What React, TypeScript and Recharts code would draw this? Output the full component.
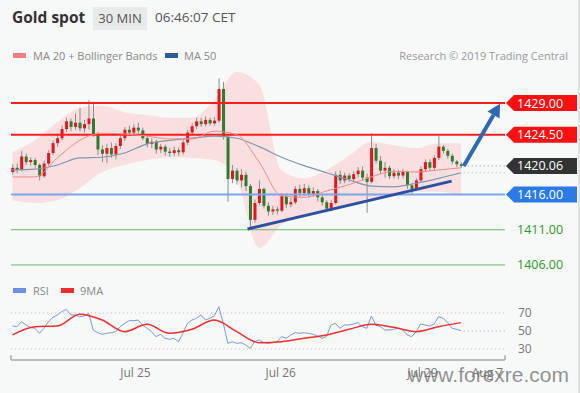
import React from 'react';
import {
  ComposedChart,
  Bar,
  Line,
  Area,
  XAxis,
  YAxis,
  ReferenceLine,
} from 'recharts';

// 30-min candles, red = up, green = down. open of each candle is the previous close
const FIRST_OPEN = 1419.2;
const CLOSE = [
  1419.8, 1419.5, 1421.4, 1420.6, 1420.9, 1420.2, 1418.6, 1420.4, 1421.9, 1423.3,
  1424.0, 1425.3, 1426.4, 1425.6, 1426.2, 1425.4, 1426.0, 1426.8, 1424.6, 1422.4,
  1421.8, 1422.6, 1421.7, 1422.9, 1424.0, 1425.2, 1424.8, 1425.5, 1425.1, 1424.0,
  1423.2, 1423.5, 1422.4, 1422.8, 1422.1, 1421.9, 1422.3, 1422.0, 1423.4, 1424.8,
  1425.7, 1426.4, 1426.0, 1426.6, 1426.1, 1426.5, 1431.0, 1424.2, 1418.2, 1419.4,
  1418.0, 1418.8, 1417.2, 1412.4, 1414.8, 1416.8, 1414.4, 1413.6, 1413.9, 1413.7,
  1415.8, 1414.6, 1414.9, 1416.8, 1416.2, 1416.9, 1416.1, 1416.5, 1415.6, 1414.9,
  1414.0, 1414.8, 1418.8, 1418.0, 1418.7, 1418.2, 1418.9, 1419.4, 1418.4, 1417.8,
  1422.6, 1420.8, 1419.4, 1419.8, 1418.6, 1419.1, 1418.7, 1419.2, 1417.3, 1416.8,
  1418.0, 1419.6, 1420.6, 1419.8, 1421.2, 1422.8, 1422.2, 1421.5, 1420.7, 1420.3,
  1420.06,
];
const HIGH = [
  1420.3, 1420.4, 1422.2, 1421.8, 1421.3, 1421.2, 1420.4, 1420.8, 1422.3, 1423.7,
  1424.6, 1425.8, 1426.9, 1426.8, 1427.5, 1428.3, 1426.6, 1429.4, 1429.2, 1424.9,
  1423.0, 1423.2, 1423.4, 1423.3, 1424.4, 1425.6, 1425.8, 1426.0, 1426.2, 1425.5,
  1424.4, 1424.0, 1423.8, 1423.2, 1423.1, 1422.6, 1422.8, 1422.7, 1423.8, 1425.2,
  1426.1, 1426.9, 1426.9, 1427.1, 1426.9, 1427.0, 1432.5, 1432.0, 1424.6, 1420.2,
  1419.8, 1419.6, 1419.2, 1417.5, 1415.3, 1418.0, 1417.0, 1414.9, 1414.4, 1414.3,
  1416.2, 1416.1, 1415.5, 1417.2, 1417.4, 1417.5, 1417.3, 1417.0, 1416.8, 1415.9,
  1415.2, 1415.2, 1419.3, 1419.4, 1419.1, 1419.0, 1419.3, 1419.9, 1420.0, 1419.0,
  1424.7, 1423.2, 1421.5, 1420.6, 1420.1, 1419.6, 1419.5, 1419.6, 1419.4, 1417.6,
  1418.3, 1420.0, 1421.0, 1421.0, 1421.6, 1424.3, 1423.0, 1422.5, 1421.8, 1420.9,
  1420.6,
];
const LOW = [
  1418.8, 1419.0, 1419.3, 1420.2, 1420.1, 1419.8, 1418.0, 1418.4, 1420.1, 1421.6,
  1422.8, 1423.7, 1424.9, 1425.0, 1425.2, 1425.0, 1424.8, 1425.2, 1424.2, 1421.6,
  1420.6, 1420.5, 1421.2, 1421.0, 1422.5, 1423.6, 1424.3, 1424.5, 1424.7, 1423.7,
  1422.7, 1422.6, 1421.8, 1421.9, 1421.5, 1421.4, 1421.5, 1421.5, 1421.7, 1423.0,
  1424.4, 1425.3, 1425.6, 1425.7, 1425.8, 1425.8, 1426.2, 1423.8, 1415.0, 1417.6,
  1417.4, 1417.0, 1416.5, 1411.2, 1412.0, 1414.5, 1414.0, 1413.0, 1413.1, 1413.2,
  1413.5, 1414.1, 1414.2, 1414.6, 1415.7, 1415.8, 1415.6, 1415.7, 1415.0, 1414.4,
  1413.6, 1413.6, 1414.6, 1417.5, 1417.6, 1417.8, 1417.9, 1418.5, 1418.0, 1413.4,
  1417.6, 1420.4, 1419.0, 1418.4, 1418.2, 1418.3, 1418.2, 1418.3, 1416.8, 1416.0,
  1416.5, 1417.7, 1419.2, 1419.4, 1419.5, 1420.9, 1421.8, 1421.1, 1420.3, 1419.9,
  1419.8,
];

// indicator values read at every 5th candle
const SAMPLE_IDX = [0, 5, 10, 15, 20, 25, 30, 35, 40, 45, 50, 55, 60, 65, 70, 75, 80, 85, 90, 95, 100];
const MA20 = [1418.5, 1418.5, 1421.2, 1423.7, 1424.7, 1424.6, 1424.3, 1423.9, 1423.9, 1425.0, 1424.5, 1420.6, 1415.8, 1415.6, 1416.5, 1417.4, 1418.5, 1419.3, 1419.2, 1419.5, 1419.8];
const MA50 = [1419.5, 1419.6, 1420.2, 1421.2, 1421.3, 1421.9, 1423.2, 1423.7, 1424.0, 1424.3, 1424.0, 1422.8, 1421.3, 1420.1, 1419.1, 1418.1, 1417.2, 1417.1, 1417.6, 1418.3, 1419.1];
const BB_UPPER = [1422.0, 1423.7, 1426.3, 1428.3, 1428.6, 1427.7, 1427.3, 1426.9, 1426.9, 1429.4, 1433.4, 1431.6, 1419.5, 1418.3, 1419.5, 1421.5, 1423.5, 1423.0, 1422.6, 1423.3, 1423.3];
const BB_LOWER = [1415.2, 1414.8, 1415.2, 1416.9, 1419.2, 1420.2, 1420.9, 1421.3, 1421.2, 1420.9, 1418.1, 1408.4, 1411.7, 1413.2, 1413.8, 1414.5, 1415.5, 1415.9, 1416.4, 1416.4, 1415.8];

const RSI = [
  55.6, 54.8, 60.4, 56.7, 54, 53, 47.4, 53, 60.4, 65.2,
  67.8, 71.5, 74.1, 67.8, 67.8, 65.9, 66.7, 69.6, 51.1, 48.1,
  46.3, 47.4, 48.1, 49.3, 54.8, 58.5, 61.5, 61.5, 62.2, 56.7,
  53, 49.3, 43.7, 46.3, 41.9, 40.7, 41.9, 38.1, 47.4, 58.5,
  62.2, 64.1, 67.8, 62.2, 64.1, 66.7, 77, 58.5, 36.3, 38.1,
  36.3, 37, 34.4, 30.7, 38.1, 40, 37, 36.3, 37, 38.1,
  43.7, 41.9, 45.6, 48.1, 47.4, 48.1, 47.4, 46.3, 44.4, 41.9,
  43.7, 56.7, 58.5, 53, 56.7, 56.7, 57.8, 59.3, 54.8, 53,
  66.7, 56.7, 54.8, 51.1, 51.1, 51.9, 53, 51.1, 45.6, 43.7,
  49.3, 57.8, 56.7, 55.6, 57.8, 65.9, 64.1, 59.3, 53, 51.9,
  50.4,
];
const RSI_MA9 = [45.6, 54.8, 55.5, 68.5, 62.2, 49.3, 57.4, 47.4, 51.9, 62.2, 49.3, 37, 38.1, 41.9, 45.6, 51.9, 57.4, 54.1, 49.3, 54.8, 59.3];

const LEVELS_RED = [1429.0, 1424.5];
const LEVEL_LAST = 1420.06;
const LEVEL_BLUE = 1416.0;
const LEVELS_GREEN = [1411.0, 1406.0];

const TREND_X = [52.4, 97.9];
const TREND_Y = [1411.1, 1417.9];
const ARROW_X = [100.6, 108.7];
const ARROW_Y = [1420.06, 1428.9];

const TICK_POS = [27.4, 59.8, 91.4, 105.9];
const TICK_LABELS = ['Jul 25', 'Jul 26', 'Jul 29', 'Aug 7'];
const RSI_LEVELS = [70, 50, 30];

const X_DOMAIN: [number, number] = [-0.33, 109.8];
const PRICE_DOMAIN: [number, number] = [1404.57, 1433.69];
const RSI_DOMAIN: [number, number] = [17.78, 85];

const FONT = '"Open Sans", "DejaVu Sans", sans-serif';
const W = 580;
const H = 393;

const candles = CLOSE.map((close, i) => ({
  i,
  open: i === 0 ? FIRST_OPEN : CLOSE[i - 1],
  close,
  high: HIGH[i],
  low: LOW[i],
  range: [LOW[i], HIGH[i]],
}));

const bands = SAMPLE_IDX.map((i, k) => ({
  i,
  band: [BB_LOWER[k], BB_UPPER[k]],
  ma20: MA20[k],
  ma50: MA50[k],
  rsiMa: RSI_MA9[k],
}));

const rsiData = RSI.map((rsi, i) => ({ i, rsi }));

const Candle = (props: any) => {
  const { x, y, width, height, payload } = props;
  if (!payload) return null;
  const { open, close, high, low } = payload;
  const top = Math.min(y, y + height);
  const h = Math.abs(height);
  const toY = (p: number) => top + ((high - p) / (high - low)) * h;
  const up = close >= open;
  const b1 = toY(Math.max(open, close));
  const b2 = toY(Math.min(open, close));
  const cx = x + width / 2;
  return (
    <g>
      <line x1={cx} x2={cx} y1={top} y2={top + h} stroke="#8c8c8c" strokeWidth={1} />
      <rect x={x} y={b1} width={width} height={Math.max(1, b2 - b1)} fill={up ? '#e3161d' : '#2e7b2b'} />
    </g>
  );
};

const ArrowShape = (props: any) => {
  const { x1, y1, x2, y2 } = props;
  const dx = x2 - x1;
  const dy = y2 - y1;
  const len = Math.hypot(dx, dy) || 1;
  const ux = dx / len;
  const uy = dy / len;
  const hl = 13;
  const hw = 7;
  const bx = x2 - ux * hl;
  const by = y2 - uy * hl;
  return (
    <g>
      <line x1={x1} y1={y1} x2={bx} y2={by} stroke="#2f69b0" strokeWidth={4} />
      <polygon
        points={`${x2},${y2} ${bx - uy * hw},${by + ux * hw} ${bx + uy * hw},${by - ux * hw}`}
        fill="#2f69b0"
      />
    </g>
  );
};

// price tag at the right end of a level line
const makeTag = (text: string, bg: string | null, fg: string) => (props: any) => {
  const vb = props.viewBox || {};
  const x0 = (vb.x ?? 0) + (vb.width ?? 0) + 1;
  const yc = vb.y ?? 0;
  return (
    <g>
      {bg && (
        <polygon
          points={`${x0},${yc} ${x0 + 8},${yc - 8} ${x0 + 71},${yc - 8} ${x0 + 71},${yc + 8} ${x0 + 8},${yc + 8}`}
          fill={bg}
        />
      )}
      <text x={x0 + 11} y={yc + 4.5} fontSize={12.5} fontFamily={FONT} fill={fg}>
        {text}
      </text>
    </g>
  );
};

const rsiLabel = (text: string) => (props: any) => {
  const vb = props.viewBox || {};
  const x0 = (vb.x ?? 0) + (vb.width ?? 0);
  return (
    <text x={x0 + 13} y={(vb.y ?? 0) + 4} fontSize={12} fontFamily={FONT} fill="#777">
      {text}
    </text>
  );
};

const Swatch = ({ color, left, top }: { color: string; left: number; top: number }) => (
  <div style={{ position: 'absolute', left, top, width: 13, height: 5, background: color }} />
);

const small: React.CSSProperties = { position: 'absolute', fontFamily: FONT, fontSize: 11, color: '#888', whiteSpace: 'nowrap' };

export default function App() {
  return (
    <div
      style={{
        position: 'absolute',
        left: 0,
        top: 0,
        width: W,
        height: H,
        background: '#f7f8f8',
        overflow: 'hidden',
        borderRight: '2px solid #e2e4e4',
        boxSizing: 'border-box',
      }}
    >
      <div style={{ position: 'absolute', left: 12, top: 6, fontFamily: FONT, fontSize: 15.5, fontWeight: 700, color: '#333' }}>
        Gold spot
      </div>
      <div
        style={{
          position: 'absolute',
          left: 93,
          top: 7,
          width: 54,
          height: 23,
          background: '#e8eaea',
          fontFamily: FONT,
          fontSize: 13,
          color: '#555',
          textAlign: 'center',
          lineHeight: '23px',
        }}
      >
        30 MIN
      </div>
      <div style={{ position: 'absolute', left: 155, top: 8, fontFamily: FONT, fontSize: 13.5, color: '#555' }}>06:46:07 CET</div>

      <Swatch color="#f77f7f" left={13} top={53} />
      <div style={{ ...small, left: 33, top: 48 }}>MA 20 + Bollinger Bands</div>
      <Swatch color="#2d5d99" left={165} top={53} />
      <div style={{ ...small, left: 184, top: 48 }}>MA 50</div>
      <div style={{ ...small, right: 10, top: 48, color: '#999' }}>Research © 2019 Trading Central</div>

      <div style={{ position: 'absolute', left: 0, top: 0 }}>
        <ComposedChart width={W} height={290} data={candles} margin={{ top: 70, right: 75, bottom: 15, left: 11 }}>
          <XAxis type="number" dataKey="i" domain={X_DOMAIN} hide allowDataOverflow />
          <YAxis type="number" domain={PRICE_DOMAIN} hide allowDataOverflow />
          <Area
            data={bands}
            dataKey="band"
            type="monotone"
            fill="#fbcaca"
            fillOpacity={0.55}
            stroke="none"
            isAnimationActive={false}
          />
          {LEVELS_RED.map((v) => (
            <ReferenceLine
              key={v}
              y={v}
              stroke="#ff1c1c"
              strokeWidth={2}
              label={makeTag(v.toFixed(2), '#ff1010', '#fff')}
            />
          ))}
          <ReferenceLine y={LEVEL_BLUE} stroke="#7aa6ea" strokeWidth={2} label={makeTag(LEVEL_BLUE.toFixed(2), '#2a7be6', '#fff')} />
          {LEVELS_GREEN.map((v) => (
            <ReferenceLine key={v} y={v} stroke="#66bb66" strokeWidth={1} label={makeTag(v.toFixed(2), null, '#2d9a2d')} />
          ))}
          <Line data={bands} dataKey="ma50" type="monotone" stroke="#7e98ac" strokeWidth={1.2} dot={false} isAnimationActive={false} />
          <Line data={bands} dataKey="ma20" type="monotone" stroke="#f28a8a" strokeWidth={1} dot={false} isAnimationActive={false} />
          <Bar dataKey="range" barSize={3} shape={Candle} isAnimationActive={false} />
          <ReferenceLine
            segment={[{ x: TREND_X[0], y: TREND_Y[0] }, { x: TREND_X[1], y: TREND_Y[1] }]}
            stroke="#2c4f9f"
            strokeWidth={3}
          />
          <ReferenceLine
            segment={[{ x: 100.6, y: LEVEL_LAST }, { x: X_DOMAIN[1], y: LEVEL_LAST }]}
            stroke="#8a94a0"
            strokeDasharray="1 3"
            label={makeTag(LEVEL_LAST.toFixed(2), '#333333', '#fff')}
          />
          <ReferenceLine
            segment={[{ x: 100.6, y: MA50[MA50.length - 1] }, { x: X_DOMAIN[1], y: MA50[MA50.length - 1] }]}
            stroke="#9fb3cc"
            strokeDasharray="1 3"
          />
          <ReferenceLine
            segment={[{ x: ARROW_X[0], y: ARROW_Y[0] }, { x: ARROW_X[1], y: ARROW_Y[1] }]}
            shape={ArrowShape}
          />
        </ComposedChart>
      </div>

      <Swatch color="#6f8fe0" left={13} top={288} />
      <div style={{ ...small, left: 33, top: 283 }}>RSI</div>
      <Swatch color="#f02a2a" left={61} top={288} />
      <div style={{ ...small, left: 80, top: 283 }}>9MA</div>

      <div style={{ position: 'absolute', left: 0, top: 280 }}>
        <ComposedChart width={W} height={113} data={rsiData} margin={{ top: 19.5, right: 75, bottom: 0, left: 11 }}>
          <XAxis
            type="number"
            dataKey="i"
            domain={X_DOMAIN}
            allowDataOverflow
            ticks={TICK_POS}
            tickFormatter={(v: number) => TICK_LABELS[TICK_POS.indexOf(v)] ?? ''}
            tickLine={false}
            axisLine={{ stroke: '#a8a8a8', strokeWidth: 1.5 }}
            tick={{ fontSize: 12, fontFamily: FONT, fill: '#777' }}
            height={33}
          />
          <YAxis type="number" domain={RSI_DOMAIN} hide allowDataOverflow />
          {RSI_LEVELS.filter((v) => v !== 50).map((v) => (
            <ReferenceLine key={v} y={v} stroke="#eab0b0" strokeDasharray="1 3" label={rsiLabel(String(v))} />
          ))}
          <ReferenceLine
            segment={[{ x: 100.6, y: 50 }, { x: X_DOMAIN[1], y: 50 }]}
            stroke="#8fa3cc"
            strokeDasharray="1 3"
            label={rsiLabel('50')}
          />
          <ReferenceLine
            segment={[{ x: X_DOMAIN[0], y: RSI_DOMAIN[0] }, { x: X_DOMAIN[0], y: 23 }]}
            stroke="#a8a8a8"
            strokeWidth={1.5}
          />
          <ReferenceLine
            segment={[{ x: X_DOMAIN[1], y: RSI_DOMAIN[0] }, { x: X_DOMAIN[1], y: 23 }]}
            stroke="#a8a8a8"
            strokeWidth={1.5}
          />
          <Line dataKey="rsi" type="linear" stroke="#7b97e6" strokeWidth={1} dot={false} isAnimationActive={false} />
          <Line data={bands} dataKey="rsiMa" type="monotone" stroke="#f03030" strokeWidth={1.5} dot={false} isAnimationActive={false} />
        </ComposedChart>
      </div>

      <div
        style={{
          position: 'absolute',
          left: 408,
          top: 363,
          fontFamily: '"Liberation Sans", Arial, sans-serif',
          fontSize: 21,
          color: 'rgba(110,110,110,0.75)',
          whiteSpace: 'nowrap',
        }}
      >
        www.forexre.com
      </div>
    </div>
  );
}
